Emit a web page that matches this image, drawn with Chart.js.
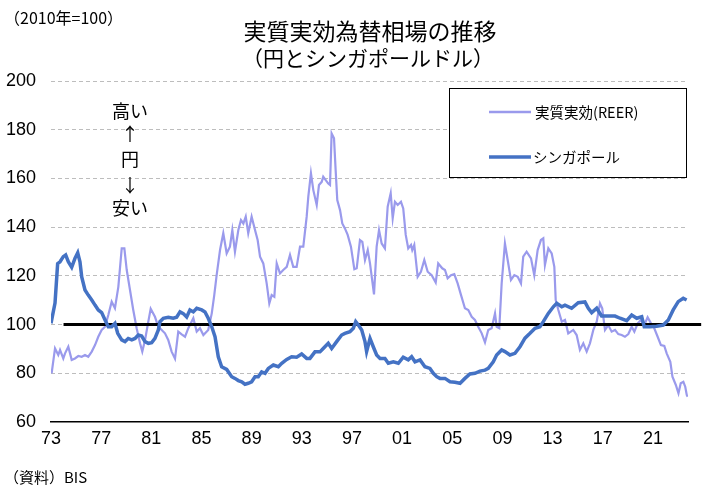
<!DOCTYPE html>
<html><head><meta charset="utf-8">
<script src="https://cdn.jsdelivr.net/npm/chart.js@4"></script>
<style>html,body{margin:0;padding:0;background:#fff}#wrap{width:721px;height:496px}</style>
</head><body><div id="wrap"><canvas id="c" width="721" height="496"></canvas></div>
<script>
const titleLines = ['実質実効為替相場の推移', '（円とシンガポールドル）'];
const unitLabel = '（2010年=100）';
const sourceLabel = '（資料）BIS';
const annoLines = ['高い', '↑', '円', '↓', '安い'];
const seriesNames = ['実質実効(REER)', 'シンガポール'];

const tickYears = [1973,1977,1981,1985,1989,1993,1997,2001,2005,2009,2013,2017,2021];
const yTicks = [60,80,100,120,140,160,180,200];

const sgdYears = [1973.0,1973.32,1973.53,1973.72,1973.98,1974.17,1974.38,1974.65,1974.91,1975.13,
1975.31,1975.45,1975.71,1975.97,1976.25,1976.51,1976.77,1977.04,1977.31,1977.57,
1977.84,1978.10,1978.32,1978.64,1978.90,1979.16,1979.44,1979.70,1979.96,1980.23,
1980.50,1980.76,1981.03,1981.29,1981.56,1981.69,1981.96,1982.35,1982.75,1983.02,
1983.29,1983.55,1983.82,1984.08,1984.35,1984.62,1985.02,1985.28,1985.54,1985.82,
1986.08,1986.34,1986.61,1987.01,1987.41,1987.67,1987.94,1988.21,1988.47,1988.73,
1989.00,1989.27,1989.53,1989.80,1990.07,1990.33,1990.73,1991.13,1991.40,1991.80,
1992.19,1992.59,1992.99,1993.39,1993.65,1994.05,1994.45,1994.71,1995.11,1995.38,
1995.78,1996.18,1996.44,1996.84,1997.11,1997.30,1997.51,1997.78,1998.04,1998.17,
1998.44,1998.70,1998.97,1999.24,1999.63,1999.90,2000.30,2000.70,2001.09,2001.49,
2001.76,2002.03,2002.43,2002.82,2003.22,2003.49,2003.76,2004.02,2004.42,2004.82,
2005.22,2005.62,2006.01,2006.41,2006.81,2007.21,2007.61,2007.87,2008.27,2008.54,
2008.94,2009.20,2009.60,2010.00,2010.40,2010.80,2011.20,2011.60,2011.99,2012.26,
2012.66,2013.06,2013.33,2013.73,2013.99,2014.52,2015.05,2015.58,2015.85,2016.12,
2016.52,2016.91,2017.44,2017.98,2018.38,2018.91,2019.31,2019.71,2020.11,2020.31,
2020.77,2021.30,2021.83,2022.23,2022.62,2023.02,2023.42,2023.69];
const sgdValues = [100.5,108.8,125,125.8,127.9,128.6,125.8,123.5,127.2,129.5,
125.8,119.6,114.2,112.1,110.1,108,106,104.9,101.9,99.1,
99.1,100.5,96.4,93.7,93,94.3,93.7,94.3,95.7,95.3,
93,92.3,92.6,94.3,97.8,101.2,102.6,103,102.6,103,
105.2,104.5,103.1,106,105.2,106.7,106,105.2,102.6,99.1,
95,86.8,82.7,81.6,78.6,77.9,77,76.5,75.5,75.9,
76.5,78.6,78.6,80.6,80,82,83.4,82.7,84.1,85.7,
86.8,86.6,87.9,86.1,86.1,88.8,88.8,90.2,92.3,90.2,
93,95.7,96.4,97.1,98.5,101.2,99.8,97.8,93,88.9,
94.3,90.9,87.5,86.1,86.1,84.1,84.7,84.1,86.6,85.5,
86.8,84.7,85.5,82.7,82,80,78.6,77.9,77.9,76.5,
76.3,75.9,77.9,79.7,80,80.9,81.3,82,84.7,87.5,
89.6,88.9,87.5,88.2,90.9,94.4,96.4,98.5,99.1,101.2,
104.6,107.3,108.7,107.3,108,106.7,109,109.3,106.7,104.9,
106.7,103.5,103.5,103.5,102.6,101.6,103.9,102.6,103.2,99.1,
99.1,99.3,99.8,101.9,106,109.4,110.8,110.1];

const reerYears = [1973.05,1973.32,1973.58,1973.72,1973.98,1974.12,1974.38,1974.65,1974.91,1975.18,
1975.45,1975.71,1975.97,1976.25,1976.51,1976.77,1977.04,1977.31,1977.57,1977.84,
1978.10,1978.37,1978.64,1978.85,1979.04,1979.30,1979.56,1979.83,1980.10,1980.28,
1980.50,1980.76,1980.95,1981.29,1981.56,1981.83,1982.09,1982.35,1982.62,1982.89,
1983.15,1983.42,1983.69,1983.95,1984.35,1984.62,1984.88,1985.15,1985.54,1985.82,
1986.02,1986.21,1986.48,1986.74,1987.01,1987.27,1987.46,1987.67,1987.94,1988.15,
1988.34,1988.53,1988.73,1989.00,1989.27,1989.48,1989.67,1989.93,1990.20,1990.41,
1990.60,1990.81,1991.00,1991.26,1991.52,1991.80,1992.06,1992.32,1992.59,1992.86,
1993.12,1993.39,1993.52,1993.73,1993.92,1994.19,1994.37,1994.59,1994.71,1994.91,
1995.11,1995.25,1995.38,1995.57,1995.70,1995.83,1996.05,1996.23,1996.44,1996.66,
1996.92,1997.19,1997.38,1997.64,1997.83,1998.04,1998.26,1998.44,1998.76,1998.97,
1999.16,1999.37,1999.63,1999.85,2000.09,2000.25,2000.43,2000.65,2000.91,2001.09,
2001.29,2001.49,2001.71,2001.81,2001.97,2002.24,2002.50,2002.77,2003.04,2003.36,
2003.68,2003.88,2004.20,2004.42,2004.63,2004.90,2005.16,2005.43,2005.70,2006.01,
2006.28,2006.55,2006.81,2007.07,2007.35,2007.61,2007.87,2008.14,2008.41,2008.54,
2008.75,2008.94,2009.20,2009.42,2009.68,2009.95,2010.22,2010.48,2010.66,2010.93,
2011.28,2011.54,2011.81,2012.07,2012.26,2012.39,2012.66,2012.93,2013.14,2013.25,
2013.46,2013.73,2013.99,2014.25,2014.65,2014.92,2015.18,2015.45,2015.72,2015.98,
2016.25,2016.52,2016.78,2016.96,2017.18,2017.44,2017.71,2017.98,2018.24,2018.51,
2018.77,2019.04,2019.31,2019.52,2019.79,2020.05,2020.31,2020.58,2020.85,2021.11,
2021.38,2021.64,2021.91,2022.10,2022.39,2022.56,2022.83,2023.04,2023.22,2023.43,
2023.58,2023.70,2023.77];
const reerValues = [80,90.2,87.5,89.6,86.1,88.2,90.9,85.5,86.1,87.1,
86.8,87.5,86.8,88.9,91.6,95,97.8,99.1,103.9,109.4,
106.7,115.5,131.3,131.3,122.4,114.2,106,98.5,92.3,88.9,
93.7,101.2,106.5,103.2,99.1,97.8,96.4,93.7,88.9,86,
97.1,96,95,98.5,102.6,97.1,98.5,95.7,97.8,104.6,
112.1,120.3,130.6,137.5,129.2,132,138.8,129.9,138.8,142.9,
141.5,144.3,137.5,144.3,138.8,134.7,127.9,125.1,116.9,108.7,
112.1,111.4,125.1,121,122.4,123.7,128.6,123.7,123.7,132,
132,144.3,152.5,162.1,155.2,149.1,157.3,158.6,160.7,159.3,
157.9,157.3,178.5,176.5,163.4,151.1,147,141.5,139.5,136.8,
132,122.7,123.1,134.7,134,126.5,130.6,125.1,112.4,132,
138.8,133.3,131.3,148.4,153.9,143.6,150.4,149.1,150.4,147.7,
136.8,131.3,132.7,130.6,132.7,119.6,121.7,126.5,121.7,120.3,
117.3,125.1,123.1,122.4,119,120.3,120.7,116.9,112.1,106.7,
106,103.2,101.9,99.1,96.4,92.7,97.8,98.5,104.6,99.1,
98.5,116.9,133.3,126.5,118.3,120.3,119.6,116.9,127.9,129.9,
127.2,120.3,130.6,134.7,135.4,124.4,131.3,129.2,123.7,110.1,
106,101.2,101.9,96.4,97.8,95.7,89.6,92.3,88.9,92.3,
97.8,101.2,108.7,106.7,97.8,99.8,97.1,97.8,96.1,95.7,
95,96.1,99.1,97.1,100.5,101.9,99.8,103,100.5,98.5,
95,91.6,91.2,88.2,84.7,78.6,75.2,71.8,75.9,76.5,
74.5,71.1,70.4];

const baseYears = [1974.0, 2024.85];
const baseValues = [100, 100];

const toPts = (xs, ys) => xs.map((x, i) => ({x: x, y: ys[i]}));
const REER_COLOR = '#9A9AEC';
const SGD_COLOR = '#4472C4';
const JP = '"Noto Sans CJK JP", sans-serif';
const NUM = '"Liberation Sans Narrow", "Liberation Sans", sans-serif';

const overlay = {
  id: 'overlay',
  beforeDraw(chart) {
    const c = chart.ctx; c.save(); c.fillStyle = '#fff'; c.fillRect(0, 0, chart.width, chart.height); c.restore();
  },
  afterDraw(chart) {
    const c = chart.ctx; c.save();
    c.fillStyle = '#000'; c.textBaseline = 'middle';
    c.textAlign = 'center';
    c.font = '23px ' + JP; c.fillText(titleLines[0], 370, 31);
    c.font = '21px ' + JP; c.fillText(titleLines[1], 368, 58);
    c.textAlign = 'left';
    c.font = '16px ' + JP; c.fillText(unitLabel, 4, 18);
    c.font = '15px ' + JP; c.fillText(sourceLabel, 4, 477);
    c.textAlign = 'center'; c.font = '18px ' + JP;
    const annoY = [111, 134, 159, 185, 208];
    annoLines.forEach((t, i) => c.fillText(t, 130, annoY[i]));
    // legend
    c.fillStyle = '#fff'; c.fillRect(449, 88, 238, 90);
    c.strokeStyle = '#000'; c.lineWidth = 1; c.strokeRect(449.5, 88.5, 237, 89);
    c.lineCap = 'butt';
    c.strokeStyle = REER_COLOR; c.lineWidth = 2.5;
    c.beginPath(); c.moveTo(489, 112); c.lineTo(531, 112); c.stroke();
    c.strokeStyle = SGD_COLOR; c.lineWidth = 3.5;
    c.beginPath(); c.moveTo(489, 157); c.lineTo(531, 157); c.stroke();
    c.fillStyle = '#000'; c.textAlign = 'left'; c.font = '14.5px ' + JP;
    c.fillText(seriesNames[0], 535, 112);
    c.fillText(seriesNames[1], 533, 157);
    c.restore();
  }
};

new Chart(document.getElementById('c'), {
  type: 'line',
  data: { datasets: [
    { label: seriesNames[0], data: toPts(reerYears, reerValues), borderColor: REER_COLOR, borderWidth: 2.2, pointRadius: 0, tension: 0, order: 3 },
    { label: 'base', data: toPts(baseYears, baseValues), borderColor: '#000', borderWidth: 3, pointRadius: 0, order: 2, clip: false },
    { label: seriesNames[1], data: toPts(sgdYears, sgdValues), borderColor: SGD_COLOR, borderWidth: 3.5, pointRadius: 0, tension: 0, order: 1 }
  ]},
  options: {
    responsive: false, animation: false, devicePixelRatio: 1,
    layout: { padding: { left: 0, right: 33, top: 81, bottom: 44 } },
    plugins: { legend: { display: false }, tooltip: { enabled: false }, title: { display: false } },
    scales: {
      x: {
        type: 'linear', min: 1973, max: 2023.8,
        afterBuildTicks: s => { s.ticks = tickYears.map(v => ({ value: v })); },
        afterFit: s => { s.height = 30; },
        ticks: { callback: v => String(v % 100).padStart(2, '0'), maxRotation: 0, autoSkip: false, padding: 6, color: '#000', font: { family: NUM, size: 18 } },
        grid: { display: false, drawTicks: false },
        border: { display: true, color: '#000', width: 1.5 }
      },
      y: {
        min: 60, max: 200,
        afterBuildTicks: s => { s.ticks = yTicks.map(v => ({ value: v })); },
        afterFit: s => { s.width = 51; },
        ticks: { padding: 15, color: '#000', font: { family: NUM, size: 18 } },
        grid: { drawTicks: false, color: ctx => (ctx.tick && ctx.tick.value === 60) ? 'rgba(0,0,0,0)' : '#BDBDBD', lineWidth: 1 },
        border: { display: false, dash: [4, 3] }
      }
    }
  },
  plugins: [overlay]
});
</script>
</body></html>
